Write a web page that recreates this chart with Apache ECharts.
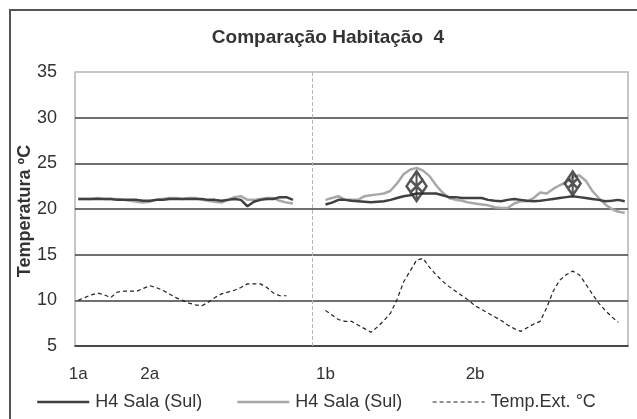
<!DOCTYPE html>
<html>
<head>
<meta charset="utf-8">
<script src="https://cdn.jsdelivr.net/npm/echarts@6/dist/echarts.min.js"></script>
<style>html,body{margin:0;padding:0;background:#fff}#c{width:637px;height:419px}</style>
</head>
<body>
<div id="c"></div>
<script>
// ---- data ----
const categoryCount = 85;
const tickLabels = {0: '1a', 11: '2a', 38: '1b', 61: '2b'};
const dividerIndex = 36;

const salaDark = [
  21.1,21.1,21.1,21.1,21.1,21.1,21.0,21.0,21.0,21.0,20.9,20.9,21.0,21.0,21.1,21.1,21.1,21.1,21.1,21.1,
  21.0,21.0,20.9,21.0,21.1,21.0,20.3,20.8,21.0,21.1,21.1,21.3,21.3,21.0,
  null,null,null,null,
  20.5,20.7,21.0,21.0,20.9,20.85,20.8,20.75,20.8,20.85,21.0,21.2,21.4,21.5,21.7,21.7,21.7,21.7,21.5,21.3,
  21.3,21.2,21.2,21.2,21.2,21.0,20.9,20.85,21.0,21.1,21.0,20.9,20.85,20.9,21.0,21.1,21.2,21.3,21.4,21.3,
  21.2,21.1,21.0,20.85,20.9,21.0,20.85
];
const salaLight = [
  21.1,21.1,21.1,21.2,21.1,21.1,21.1,21.0,20.9,20.8,20.7,20.8,21.0,21.1,21.2,21.2,21.1,21.2,21.2,21.0,
  20.9,20.8,20.7,21.0,21.3,21.4,21.0,21.0,21.1,21.2,21.2,20.9,20.7,20.6,
  null,null,null,null,
  21.0,21.2,21.4,21.0,21.0,21.0,21.4,21.5,21.6,21.7,22.0,22.8,23.8,24.3,24.5,24.2,23.6,22.6,21.8,21.2,
  21.0,20.9,20.7,20.6,20.5,20.4,20.2,20.1,20.1,20.6,20.85,20.85,21.2,21.8,21.7,22.2,22.6,22.9,23.5,23.7,
  23.1,22.0,21.2,20.5,20.0,19.7,19.6
];
const tempExt = [
  10.0,10.3,10.6,10.8,10.6,10.3,10.9,11.0,11.0,11.0,11.3,11.6,11.4,11.1,10.7,10.3,10.0,9.7,9.5,9.4,
  9.8,10.3,10.7,10.9,11.1,11.4,11.8,11.8,11.8,11.4,10.8,10.5,10.5,null,
  null,null,null,null,
  8.9,8.4,7.9,7.7,7.7,7.3,6.9,6.5,7.1,7.8,8.6,10.1,12.0,13.2,14.4,14.6,13.6,12.8,12.1,11.5,
  11.0,10.5,10.0,9.4,9.0,8.6,8.2,7.8,7.3,6.9,6.6,7.0,7.4,7.7,9.2,11.0,12.2,12.8,13.2,12.8,
  11.8,10.7,9.7,8.9,8.2,7.6,null
];
const peakMarkers = [[52, 22.5, 20, 30], [76, 22.8, 16, 24]];

const categories = [];
for (let i = 0; i < categoryCount; i++) categories.push('c' + i);

const markerPath = 'path://M10 0 L10 30 M10 0 L20 15 L10 30 L0 15 Z M3 8 L17 22 M17 8 L3 22';
const FONT = 'Liberation Sans';

const legendLines = [
  {width: 2.5, color: '#404040'},
  {width: 2.5, color: '#a8a8a8'},
  {width: 1.2, color: '#222', type: [4, 3]}
];

const chart = echarts.init(document.getElementById('c'), null, {renderer: 'canvas'});
chart.setOption({
  animation: false,
  backgroundColor: '#fff',
  textStyle: {fontFamily: FONT},
  graphic: [
    {type: 'rect', shape: {x: 10, y: 10, width: 640, height: 430}, style: {fill: 'none', stroke: '#555', lineWidth: 2}, z: 0},
    {type: 'text', x: 328, y: 38, style: {text: 'Comparação Habitação  4', font: 'bold 19px ' + FONT, fill: '#333', textAlign: 'center', textVerticalAlign: 'middle'}},
    {type: 'text', x: 25, y: 211, rotation: Math.PI / 2, style: {text: 'Temperatura ºC', font: 'bold 18px ' + FONT, fill: '#333', textAlign: 'center', textVerticalAlign: 'middle'}}
  ],
  grid: {left: 75, right: 9, top: 72, bottom: 73, show: true, borderColor: '#b5b5b5', borderWidth: 1.5, backgroundColor: 'transparent'},
  legend: [
    {data: ['H4 Sala (Sul) ']}, {data: ['H4 Sala (Sul)']}, {data: ['Temp.Ext. °C']}
  ].map((l, k) => Object.assign(l, {
    left: [36, 236, 432][k], top: 393, itemWidth: 52, itemHeight: 14, itemGap: 5, padding: 0,
    itemStyle: {opacity: 0},
    lineStyle: legendLines[k],
    textStyle: {fontSize: 18, color: '#333', fontFamily: FONT, padding: [0, 0, 0, 1]}
  })),
  xAxis: {
    type: 'category', data: categories, boundaryGap: true,
    axisLine: {lineStyle: {color: '#404040', width: 1.5}},
    axisTick: {show: false},
    axisLabel: {interval: 0, margin: 20, fontSize: 17, color: '#333',
      formatter: (v, idx) => tickLabels[idx] || ''},
    splitLine: {show: false}
  },
  yAxis: {
    type: 'value', min: 5, max: 35, interval: 5,
    axisLine: {show: false}, axisTick: {show: false},
    axisLabel: {fontSize: 18, color: '#333', margin: 18},
    splitLine: {show: true, showMaxLine: false, lineStyle: {color: '#404040', width: 1.5}}
  },
  series: [
    {name: 'H4 Sala (Sul) ', type: 'line', data: salaDark, symbol: 'none', connectNulls: false,
      lineStyle: {color: '#404040', width: 2.5}, itemStyle: {color: '#404040'}, z: 3},
    {name: 'H4 Sala (Sul)', type: 'line', data: salaLight, symbol: 'none', connectNulls: false,
      lineStyle: {color: '#a8a8a8', width: 2.5}, itemStyle: {color: '#a8a8a8'}, z: 2},
    {name: 'Temp.Ext. °C', type: 'line', data: tempExt, symbol: 'none', connectNulls: false,
      lineStyle: {color: '#222', width: 1.2, type: [4, 3]}, itemStyle: {color: '#222'}, z: 2,
      markLine: {symbol: 'none', silent: true, label: {show: false},
        lineStyle: {color: '#b5b5b5', type: [4, 2], width: 1},
        data: [{xAxis: dividerIndex}]}},
    {name: 'marker', type: 'scatter', z: 4,
      data: peakMarkers.map(m => ({value: [m[0], m[1]], symbolSize: [m[2], m[3]]})),
      symbol: markerPath, symbolKeepAspect: false,
      itemStyle: {color: 'rgba(0,0,0,0)', borderColor: '#2a2a2a', borderWidth: 2.5}}
  ]
});
</script>
</body>
</html>
